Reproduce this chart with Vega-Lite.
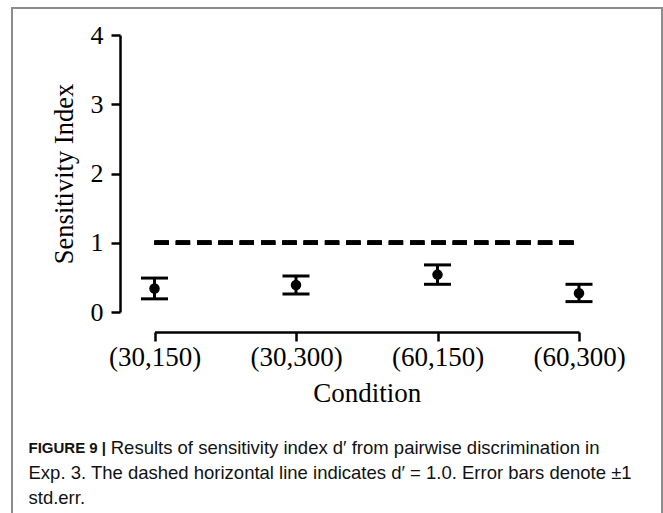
{
  "$schema": "https://vega.github.io/schema/vega-lite/v6.json",
  "width": 650,
  "height": 507,
  "autosize": {"type": "none"},
  "padding": {"left": 12, "top": 8, "right": 1, "bottom": -2},
  "background": "white",
  "config": {
    "view": {"stroke": "#8c8c8c", "strokeWidth": 2},
    "axis": {
      "domainColor": "black", "domainWidth": 2.5, "tickColor": "black", "tickWidth": 2.5, "tickSize": 9,
      "grid": false, "labelFont": "Liberation Serif", "labelColor": "black",
      "titleFont": "Liberation Serif", "titleFontWeight": "normal", "titleColor": "black"
    }
  },
  "title": {
    "text": "FIGURE 9 |",
    "subtitle": [
      "\u200b\u00a0\u00a0\u00a0\u00a0\u00a0\u00a0\u00a0\u00a0\u00a0\u00a0\u00a0\u00a0\u00a0\u00a0\u00a0\u00a0Results of sensitivity index d\u2032 from pairwise discrimination in",
      "Exp. 3. The dashed horizontal line indicates d\u2032 = 1.0. Error bars denote \u00b11",
      "std.err."
    ],
    "orient": "bottom",
    "anchor": "start",
    "frame": "group",
    "offset": -74,
    "dx": 16.5,
    "baseline": "top",
    "font": "Liberation Sans",
    "fontSize": 15,
    "fontWeight": "bold",
    "color": "#111",
    "subtitleFont": "Liberation Sans",
    "subtitleFontSize": 18.5,
    "subtitleColor": "#111",
    "subtitleLineHeight": 25,
    "subtitlePadding": -17.4
  },
  "data": {
    "values": [
      {"condition": "(30,150)", "d": 0.34, "lo": 0.19, "hi": 0.49},
      {"condition": "(30,300)", "d": 0.39, "lo": 0.26, "hi": 0.52},
      {"condition": "(60,150)", "d": 0.54, "lo": 0.40, "hi": 0.68},
      {"condition": "(60,300)", "d": 0.27, "lo": 0.15, "hi": 0.40}
    ]
  },
  "layer": [
    {
      "mark": {"type": "rule", "strokeWidth": 3, "color": "black"},
      "encoding": {
        "x": {
          "field": "condition", "type": "nominal", "sort": null,
          "scale": {"type": "point", "padding": 0, "range": [142.5, 567], "domain": ["(30,150)", "(30,300)", "(60,150)", "(60,300)"]},
          "axis": {"orient": "bottom", "offset": -183, "labelAngle": 0, "labelAlign": "center", "labelBaseline": "top", "labelFlush": false, "labelFontSize": 27, "labelPadding": 3, "title": "Condition", "titleFontSize": 27, "titlePadding": 10}
        },
        "y": {
          "field": "lo", "type": "quantitative",
          "scale": {"domain": [0, 4], "range": [304, 27], "nice": false, "zero": true},
          "axis": {"orient": "left", "offset": -108, "values": [0, 1, 2, 3, 4], "format": "d", "labelFontSize": 26, "labelPadding": 8, "title": "Sensitivity Index", "titleFontSize": 26.5, "titlePadding": 12}
        },
        "y2": {"field": "hi"}
      }
    },
    {
      "mark": {"type": "tick", "orient": "horizontal", "size": 27, "thickness": 3, "color": "black", "opacity": 1},
      "encoding": {
        "x": {"field": "condition", "type": "nominal", "sort": null},
        "y": {"field": "lo", "type": "quantitative"}
      }
    },
    {
      "mark": {"type": "tick", "orient": "horizontal", "size": 27, "thickness": 3, "color": "black", "opacity": 1},
      "encoding": {
        "x": {"field": "condition", "type": "nominal", "sort": null},
        "y": {"field": "hi", "type": "quantitative"}
      }
    },
    {
      "mark": {"type": "point", "filled": true, "size": 110, "color": "black", "opacity": 1},
      "encoding": {
        "x": {"field": "condition", "type": "nominal", "sort": null},
        "y": {"field": "d", "type": "quantitative"}
      }
    },
    {
      "mark": {"type": "rule", "strokeDash": [14.3, 7], "strokeWidth": 4.5, "color": "black"},
      "encoding": {
        "x": {"datum": "(30,150)", "type": "nominal"},
        "x2": {"datum": "(60,300)"},
        "y": {"datum": 1, "type": "quantitative"}
      }
    }
  ]
}
